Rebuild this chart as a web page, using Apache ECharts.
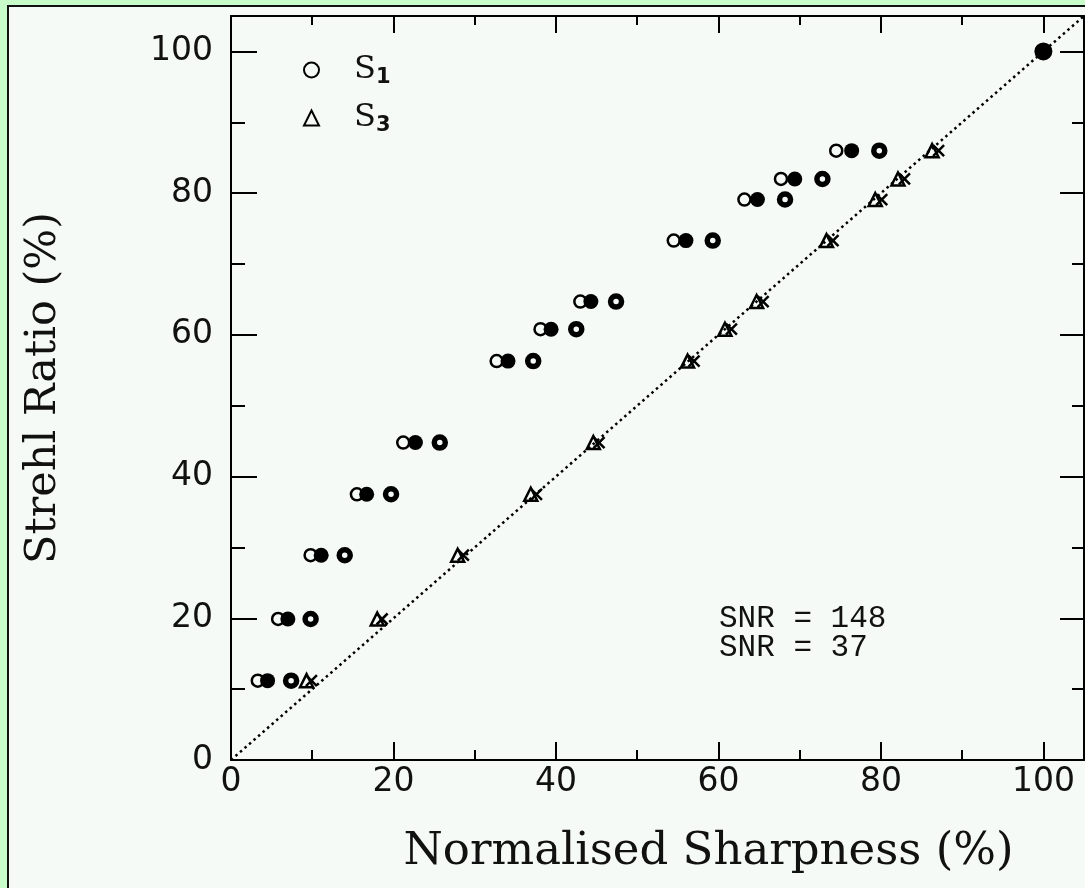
<!DOCTYPE html>
<html>
<head>
<meta charset="utf-8">
<script src="https://cdn.jsdelivr.net/npm/echarts/dist/echarts.min.js"></script>
<style>
  html, body { margin: 0; padding: 0; background: #c8fcc8; }
  #myChart { width: 1085px; height: 888px; }
</style>
</head>
<body>
<div id="myChart"></div>
<script>
// Strehl ratio levels (%) shared by every group of points
var strehl = [11.2, 19.9, 28.9, 37.5, 44.8, 56.3, 60.8, 64.7, 73.3, 79.1, 82.0, 86.0];
// normalised sharpness (%) per group
var s1Open = [3.3, 5.8, 9.8, 15.5, 21.2, 32.7, 38.1, 43.0, 54.5, 63.2, 67.7, 74.5];
var s1Filled = [4.5, 7.0, 11.1, 16.7, 22.7, 34.1, 39.4, 44.3, 56.0, 64.8, 69.4, 76.4];
var s1Ring = [7.4, 9.8, 14.0, 19.7, 25.7, 37.2, 42.5, 47.4, 59.3, 68.2, 72.8, 79.8];
var s3Tri = [9.3, 18.0, 27.9, 36.9, 44.6, 56.2, 60.8, 64.7, 73.3, 79.3, 82.1, 86.3];
var s3Cross = [9.9, 18.6, 28.6, 37.6, 45.3, 57.0, 61.6, 65.5, 74.1, 80.1, 82.9, 87.1];
var perfectPoint = [100, 100];
var diagonal = [[0, 0], [105, 105]];
var minorTicks = [10, 30, 50, 70, 90];
var snrLabels = ["SNR = 148", "SNR = 37"];

function pairs(xs, ys) {
  return xs.map(function (x, i) { return [x, ys[i]]; });
}

var ink = "#000";

// major axes use the scale's own 20-step ticks; minor ones get the odd tens
function axis(pos, len, minor, opts) {
  var a = {
    type: "value",
    position: pos,
    min: 0,
    max: 105,
    interval: 20,
    splitLine: { show: false },
    axisLine: { show: !minor, onZero: false, lineStyle: { color: ink, width: 2 } },
    axisTick: { show: true, inside: true, length: len, lineStyle: { color: ink, width: 2 } },
    axisLabel: { show: false }
  };
  if (minor) a.axisTick.customValues = minorTicks;
  return Object.assign(a, opts || {});
}

var tickFont = { show: true, fontFamily: "DejaVu Sans", fontSize: 33, color: "#111", showMaxLabel: false };

var option = {
  backgroundColor: "#c8fcc8",
  animation: false,
  graphic: [
    { type: "rect", z: -10, shape: { x: 8, y: 6, width: 1200, height: 1000 },
      style: { fill: "#f5faf6", stroke: "#111", lineWidth: 2 } },
    { type: "text", left: 719, top: 603,
      style: { text: snrLabels.join("\n"), font: "31px 'Liberation Mono'", fill: "#111", lineHeight: 29 } }
  ],
  grid: { left: 231, top: 16, width: 853, height: 744 },
  legend: {
    orient: "vertical",
    left: 303,
    top: 54,
    padding: 0,
    itemGap: 14,
    itemWidth: 15,
    itemHeight: 15,
    data: [
      { name: "S1", icon: "circle", itemStyle: { color: "transparent", borderColor: ink, borderWidth: 2, opacity: 1 } },
      { name: "S3", icon: "triangle", itemStyle: { color: "transparent", borderColor: ink, borderWidth: 2, opacity: 1 } }
    ],
    formatter: function (name) { return "{s|S}{sub|" + name.slice(1) + "}"; },
    textStyle: {
      rich: {
        s: { fontFamily: "DejaVu Serif", fontSize: 32, color: "#111", lineHeight: 36, padding: [0, 0, 0, 30] },
        sub: { fontFamily: "DejaVu Sans", fontWeight: "bold", fontSize: 21, color: "#111", lineHeight: 22, verticalAlign: "bottom" }
      }
    }
  },
  xAxis: [
    axis("bottom", 18, false, {
      axisLabel: Object.assign({ margin: 6 }, tickFont),
      name: "Normalised Sharpness (%)",
      nameLocation: "middle",
      nameGap: 70,
      nameTextStyle: { fontFamily: "DejaVu Serif", fontSize: 45, color: "#111", padding: [0, 0, 0, 102] }
    }),
    axis("bottom", 10, true),
    axis("top", 17, false),
    axis("top", 9, true)
  ],
  yAxis: [
    axis("left", 26, false, {
      axisLabel: Object.assign({ margin: 18 }, tickFont),
      name: "Strehl Ratio (%)",
      nameLocation: "middle",
      nameRotate: 90,
      nameGap: 166,
      nameTextStyle: { fontFamily: "DejaVu Serif", fontSize: 43, color: "#111" }
    }),
    axis("left", 14, true),
    axis("right", 24, false),
    axis("right", 12, true)
  ],
  series: [
    {
      name: "diagonal", type: "line", data: diagonal, symbol: "none", silent: true,
      lineStyle: { color: ink, width: 2.5, type: [2.5, 3.5] }
    },
    {
      name: "S1", type: "scatter", data: pairs(s1Open, strehl), symbol: "circle", symbolSize: 12,
      itemStyle: { color: "transparent", borderColor: ink, borderWidth: 2.5, opacity: 1 }
    },
    {
      name: "S1 filled", type: "scatter", symbol: "circle", symbolSize: 15,
      data: pairs(s1Filled, strehl).concat([{ value: perfectPoint, symbolSize: 18 }]),
      itemStyle: { color: ink, opacity: 1 }
    },
    {
      name: "S1 ring", type: "scatter", data: pairs(s1Ring, strehl), symbol: "circle", symbolSize: 11,
      itemStyle: { color: "#f5faf6", borderColor: ink, borderWidth: 5.5, opacity: 1 }
    },
    {
      name: "S3", type: "scatter", data: pairs(s3Tri, strehl), symbol: "triangle", symbolSize: 13,
      itemStyle: { color: "transparent", borderColor: ink, borderWidth: 2.5, opacity: 1 }
    },
    {
      name: "S3 cross", type: "scatter", data: pairs(s3Cross, strehl), symbol: "path://M0,0L10,10M10,0L0,10",
      symbolSize: 11,
      itemStyle: { color: "none", borderColor: ink, borderWidth: 2.5, opacity: 1 }
    }
  ]
};

var myChart = echarts.init(document.getElementById("myChart"));
myChart.setOption(option);
window.onresize = myChart.resize;
</script>
</body>
</html>
